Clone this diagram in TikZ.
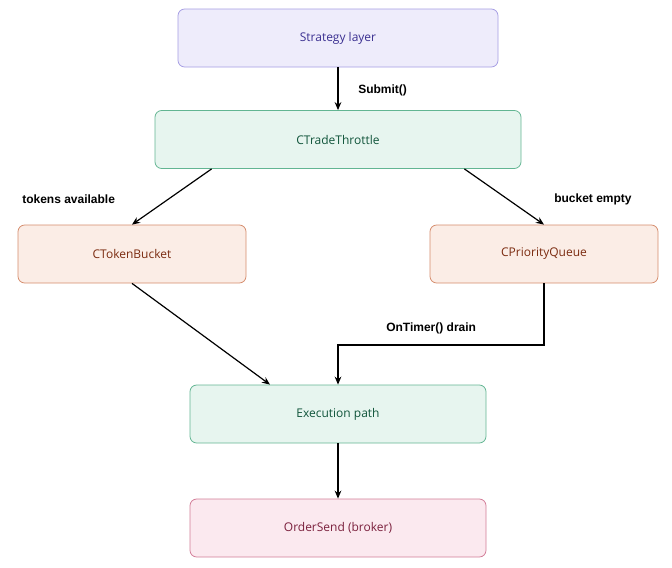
\documentclass[tikz,border=0pt]{standalone}
\usepackage{fontspec}
\setmainfont{Open Sans}
\newfontfamily\labelfont{Liberation Sans}
\usetikzlibrary{arrows.meta, positioning}
\definecolor{LavFill}{HTML}{EEECFB}
\definecolor{LavLine}{HTML}{A59DE3}
\definecolor{LavText}{HTML}{3B3091}
\definecolor{MintFill}{HTML}{E7F5EF}
\definecolor{MintLine}{HTML}{62B592}
\definecolor{MintText}{HTML}{11553B}
\definecolor{PeachFill}{HTML}{FBEDE6}
\definecolor{PeachLine}{HTML}{D58C6C}
\definecolor{PeachText}{HTML}{7B2B10}
\definecolor{RoseFill}{HTML}{FBE9EF}
\definecolor{RoseLine}{HTML}{D27C97}
\definecolor{RoseText}{HTML}{7B203D}
\tikzset{
    block/.style={rectangle, rounded corners=5pt, draw, line width=0.6pt,
                  minimum height=43.5pt, font=\small},
    lavbox/.style={block, fill=LavFill, draw=LavLine, text=LavText},
    mintbox/.style={block, fill=MintFill, draw=MintLine, text=MintText},
    peachbox/.style={block, fill=PeachFill, draw=PeachLine, text=PeachText},
    rosebox/.style={block, fill=RoseFill, draw=RoseLine, text=RoseText},
    flow/.style={-{Stealth[length=6pt,width=5pt]}, line width=0.9pt, black},
    tag/.style={font=\labelfont\small\bfseries, text=black, inner sep=0pt}
}
\begin{document}
\begin{tikzpicture}[x=0.75pt, y=-0.75pt]
    \useasboundingbox (0,0) rectangle (672,568);

    % Boxes
    \node[lavbox, minimum width=240pt] (strategy) at (338,38) {Strategy layer};
    \node[mintbox, minimum width=274.5pt] (throttle) at (338,139.5) {CTradeThrottle};
    \node[peachbox, minimum width=171pt] (bucket) at (132,254) {CTokenBucket};
    \node[peachbox, minimum width=171pt] (queue) at (544,254) {CPriorityQueue};
    \node[mintbox, minimum width=222pt] (exec) at (338,414) {Execution path};
    \node[rosebox, minimum width=222pt] (send) at (338,528) {OrderSend (broker)};

    % Connectors
    \draw[flow] (strategy) -- (throttle);
    \node[tag, anchor=west] at (358,90) {Submit()};
    \draw[flow] (throttle.south west) ++(57,0) -- (bucket.north);
    \node[tag, anchor=west] at (22,199) {tokens available};
    \draw[flow] (throttle.south east) ++(-57,0) -- (queue.north);
    \node[tag, anchor=west] at (554,199) {bucket empty};
    \draw[flow] (bucket.south) -- ([xshift=-51pt]exec.north);
    \draw[flow] (queue.south) |- (338,345) -- (exec.north);
    \node[tag, anchor=west] at (386,328) {OnTimer() drain};
    \draw[flow] (exec) -- (send);
\end{tikzpicture}
\end{document}
